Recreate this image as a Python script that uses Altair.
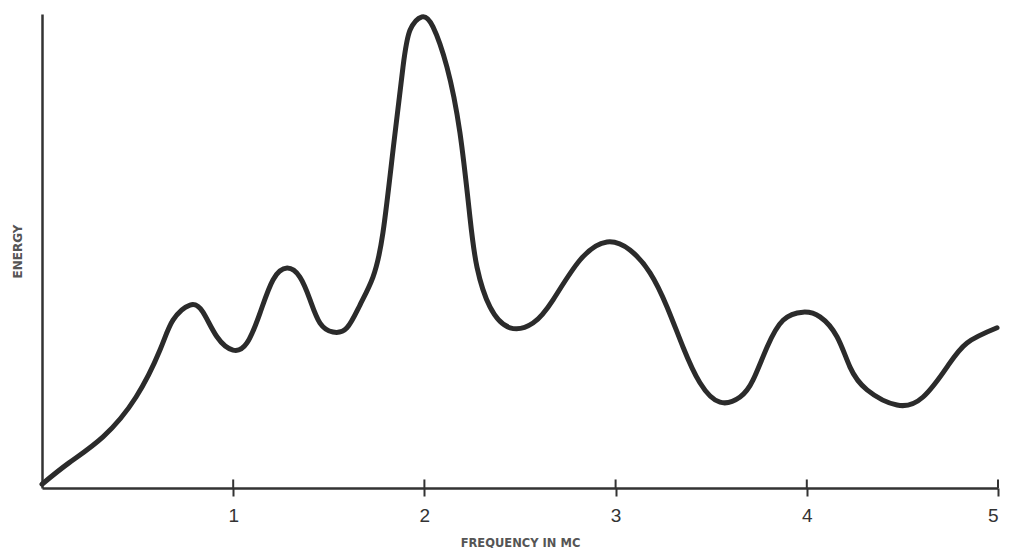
import altair as alt
import pandas as pd

# Curve (frequency in Mc, relative energy 0-100)
freq = [0.0, 0.141, 0.319, 0.492, 0.617, 0.685, 0.774, 0.842, 0.915, 0.999,
        1.072, 1.140, 1.208, 1.282, 1.349, 1.402, 1.454, 1.522, 1.595, 1.663,
        1.731, 1.783, 1.836, 1.888, 1.925, 1.987, 2.045, 2.118, 2.186, 2.238,
        2.275, 2.343, 2.448, 2.568, 2.673, 2.814, 2.955, 3.075, 3.180, 3.269,
        3.353, 3.441, 3.546, 3.651, 3.719, 3.792, 3.876, 3.980, 4.069, 4.158,
        4.226, 4.315, 4.472, 4.608, 4.733, 4.838, 4.995]
energy = [0.8, 5.3, 10.8, 19.2, 29.1, 35.4, 38.6, 37.1, 31.9, 29.1,
          30.6, 36.9, 43.9, 46.4, 44.5, 39.7, 34.8, 32.9, 33.8, 38.6,
          44.5, 53.8, 71.3, 88.8, 96.6, 99.4, 97.3, 88.8, 74.9, 57.2,
          46.6, 38.2, 33.8, 34.8, 39.7, 48.1, 51.9, 50.2, 45.4, 38.2,
          29.7, 22.2, 18.1, 19.2, 22.8, 29.7, 35.4, 37.1, 36.1, 31.9,
          25.5, 20.7, 17.5, 19.2, 25.5, 30.6, 33.8]
tick_values = [1, 2, 3, 4, 5]

df = pd.DataFrame({"freq": freq, "energy": energy})
ticks_df = pd.DataFrame({"t": tick_values})

INK = "#2b2b2b"

x_scale = alt.Scale(domain=[0, 5], nice=False, zero=False)
y_scale = alt.Scale(domain=[0, 100], nice=False)

curve = alt.Chart(df).mark_line(
    color=INK, strokeWidth=5, interpolate="natural", strokeCap="round"
).encode(
    x=alt.X("freq:Q", scale=x_scale,
            axis=alt.Axis(values=tick_values, format="d", title="FREQUENCY IN MC",
                          tickSize=8, tickWidth=2, tickColor="#333",
                          domainColor="#333", domainWidth=2.5,
                          labelFontSize=19, labelColor="#333", labelPadding=10,
                          labelFont="Liberation Sans",
                          titleFont="DejaVu Sans", titleFontSize=11.5,
                          titleFontWeight="bold", titleColor="#555",
                          titlePadding=12, grid=False)),
    y=alt.Y("energy:Q", scale=y_scale,
            axis=alt.Axis(values=[], title="ENERGY", ticks=False, labels=False,
                          domainColor="#333", domainWidth=2.5, grid=False,
                          titleFont="DejaVu Sans", titleFontSize=12,
                          titleFontWeight="bold", titleColor="#555",
                          titlePadding=18)),
)

# upper halves of the crossing tick marks
tick_up = alt.Chart(ticks_df).mark_rule(color="#333", strokeWidth=2).encode(
    x=alt.X("t:Q", scale=x_scale),
    y=alt.datum(0),
    y2=alt.datum(1.8),
)

chart = alt.layer(curve, tick_up).properties(
    width=956, height=474,
    background="white",
    autosize=alt.AutoSizeParams(type="none"),
    padding={"left": 34, "top": 6, "right": 8, "bottom": 60},
).configure_view(strokeWidth=0, stroke="transparent")

chart.save("out.html", embed_options={"renderer": "svg", "actions": False})
